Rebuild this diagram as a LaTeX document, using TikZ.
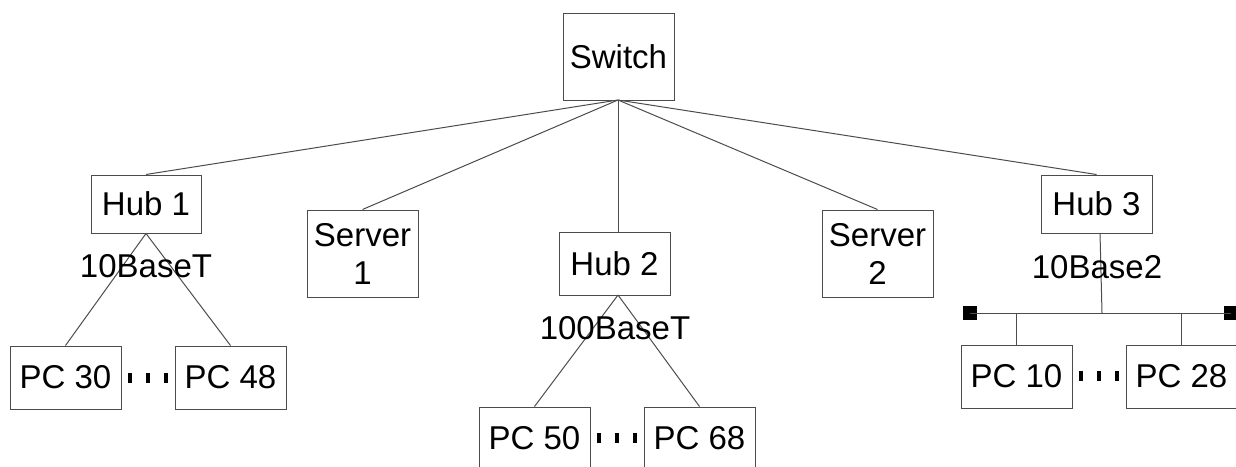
\documentclass[tikz,border=0pt]{standalone}
\usepackage{fontspec}
\setmainfont{Liberation Sans}
\usetikzlibrary{calc}
\tikzset{
  box/.style={draw=black!70, line width=1pt, inner sep=0pt, align=center,
    font=\fontsize{33}{38}\selectfont},
  wire/.style={draw=black!70, line width=1pt},
  lbl/.style={inner sep=0pt, font=\fontsize{33}{38}\selectfont},
  term/.style={fill=black, draw=none, minimum size=14pt, inner sep=0pt},
}
\newcommand{\ellipsisdots}[3]{%
  \foreach \dx in {-18,0,18}
    \fill[black] ($(#1)!0.5!(#2)+(\dx,#3)$) ++(-2.2,-5) rectangle ++(4.4,10);}
\begin{document}
\begin{tikzpicture}[x=1pt,y=-1pt]
\useasboundingbox (0,0) rectangle (1236,466);

% top switch
\node[box, minimum width=111, minimum height=87] (sw) at (618.5,56.5) {Switch};

% second level
\node[box, minimum width=110, minimum height=58] (hub1) at (146,204) {Hub 1};
\node[box, minimum width=111, minimum height=87] (srv1) at (362.5,253.5) {Server\\1};
\node[box, minimum width=111, minimum height=63] (hub2) at (614.5,263.5) {Hub 2};
\node[box, minimum width=111, minimum height=87] (srv2) at (877.5,253.5) {Server\\2};
\node[box, minimum width=111, minimum height=58] (hub3) at (1096.5,204) {Hub 3};

% workstations
\node[box, minimum width=111, minimum height=63] (pc30) at (65.5,377.5) {PC 30};
\node[box, minimum width=111, minimum height=63] (pc48) at (230.5,377.5) {PC 48};
\node[box, minimum width=111, minimum height=63] (pc50) at (534.5,438.5) {PC 50};
\node[box, minimum width=111, minimum height=63] (pc68) at (699.5,438.5) {PC 68};
\node[box, minimum width=111, minimum height=63] (pc10) at (1016.5,376.5) {PC 10};
\node[box, minimum width=111, minimum height=63] (pc28) at (1181.5,376.5) {PC 28};

% uplinks to the switch
\coordinate (swb) at (618,100);
\coordinate (hub2t) at (618,232);
\draw[wire] (swb) -- (hub1.north);
\draw[wire] (swb) -- (srv1.north);
\draw[wire] (swb) -- (hub2t);
\draw[wire] (swb) -- (srv2.north);
\draw[wire] (swb) -- (hub3.north);

% 10BaseT segment
\draw[wire] (hub1.south) -- (pc30.north);
\draw[wire] (hub1.south) -- (pc48.north);
\node[lbl] (l1) at (146,266) {10BaseT};

% 100BaseT segment
\coordinate (hub2b) at (618,295);
\draw[wire] (hub2b) -- (pc50.north);
\draw[wire] (hub2b) -- (pc68.north);
\node[lbl] (l2) at (615,328) {100BaseT};

% 10Base2 coax bus with terminators
\coordinate (hub3b) at (1100,233);
\coordinate (tap) at (1102,313);
\node[term] (tl) at (970,313) {};
\node[term] (tr) at (1231,313) {};
\draw[wire] (hub3b) -- (tap);
\draw[wire] (tl.center) -- (tr.center);
\draw[wire] (pc10.north |- tap) -- (pc10.north);
\draw[wire] (pc28.north |- tap) -- (pc28.north);
\node[lbl] (l3) at (1097,267) {10Base2};

% ellipsis between first and last PC of each group
\ellipsisdots{pc30.east}{pc48.west}{0}
\ellipsisdots{pc50.east}{pc68.west}{-1}
\ellipsisdots{pc10.east}{pc28.west}{-1}
\end{tikzpicture}
\end{document}
